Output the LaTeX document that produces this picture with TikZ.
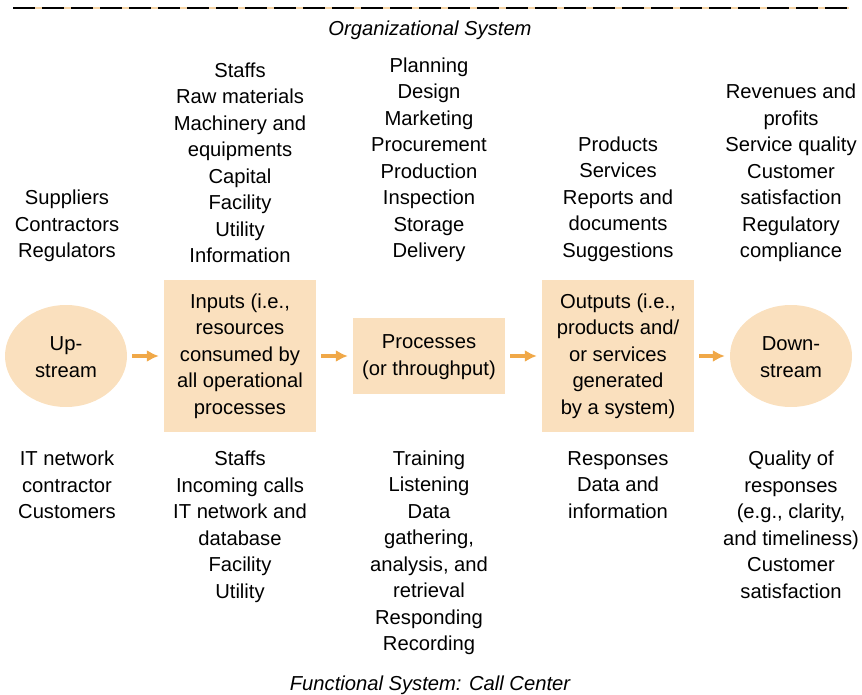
\documentclass[tikz,border=0pt]{standalone}
\usepackage{fontspec}
\setmainfont{Liberation Sans}
\usetikzlibrary{arrows.meta,shapes.geometric}
\definecolor{boxfill}{RGB}{250,224,190}
\definecolor{arrorange}{RGB}{240,168,72}
\definecolor{dashgap}{RGB}{246,212,165}
\newcommand\topgap[1]{\rule{0pt}{#1pt}}
\tikzset{
  txt/.style={align=center, inner sep=0pt, font=\fontsize{20.2}{26.5}\selectfont},
  boxnode/.style={txt, fill=boxfill, minimum width=152, minimum height=152},
  ellnode/.style={txt, ellipse, fill=boxfill, minimum width=122, minimum height=102},
  arr/.style={arrorange, line width=3.6pt, -{Latex[length=12pt,width=12pt]}, shorten <=5pt, shorten >=5pt},
  ttl/.style={txt, font=\fontsize{20.2}{26.5}\selectfont\itshape},
}
\begin{document}
\begin{tikzpicture}[x=1pt,y=-1pt]
\useasboundingbox (0,0) rectangle (862,695);
% top dashed line
\coordinate (dl) at (13,8);
\coordinate (dr) at (849,8);
\draw[dashgap, line width=1.6pt] (dl) -- (dr);
\draw[black, line width=1.6pt, dash pattern=on 22pt off 7pt] (dl) -- (dr);
\node[ttl] (orgt) at (430,30) {Organizational System};
\node[ttl] (funt) at (430,685) {Functional System: Call Center};

% main row
\node[ellnode] (up) at (66,356) {\topgap{16.5}Up-\\stream};
\node[boxnode] (in) at (240,356) {Inputs (i.e.,\\resources\\consumed by\\all operational\\processes};
\node[boxnode, minimum height=76] (pr) at (429,356) {\topgap{16.5}Processes\\(or throughput)};
\node[boxnode] (out) at (618,356) {Outputs (i.e.,\\products and/\\or services\\generated\\by a system)};
\node[ellnode] (down) at (791,356) {\topgap{16.5}Down-\\stream};

\draw[arr] (up) -- (in);
\draw[arr] (in) -- (pr);
\draw[arr] (pr) -- (out);
\draw[arr] (out) -- (down);

% top texts
\node[txt] (t1) at (67,226) {Suppliers\\Contractors\\Regulators};
\node[txt] (t2) at (240,163) {Staffs\\Raw materials\\Machinery and\\equipments\\Capital\\Facility\\Utility\\Information};
\node[txt] (t3) at (429,160) {Planning\\Design\\Marketing\\Procurement\\Production\\Inspection\\Storage\\Delivery};
\node[txt] (t4) at (618,199) {Products\\Services\\Reports and\\documents\\Suggestions};
\node[txt] (t5) at (791,173) {Revenues and\\profits\\Service quality\\Customer\\satisfaction\\Regulatory\\compliance};

% bottom texts
\node[txt] (b1) at (67,485) {IT network\\contractor\\Customers};
\node[txt] (b2) at (240,527) {Staffs\\Incoming calls\\IT network and\\database\\Facility\\Utility};
\node[txt] (b3) at (429,553) {Training\\Listening\\Data\\gathering,\\analysis, and\\retrieval\\Responding\\Recording};
\node[txt] (b4) at (618,485) {Responses\\Data and\\information};
\node[txt] (b5) at (791,525) {Quality of\\responses\\(e.g., clarity,\\and timeliness)\\Customer\\satisfaction};
\end{tikzpicture}
\end{document}
